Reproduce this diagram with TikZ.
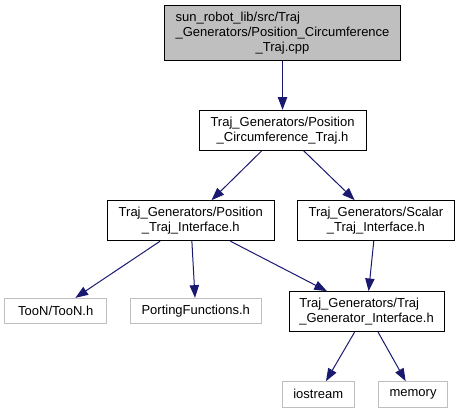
\documentclass[tikz,border=0pt]{standalone}
\usepackage{fontspec}
\setmainfont{Liberation Sans}
\usepackage{calc}
\usepackage{xcolor}
\usepackage{tikz}
\usetikzlibrary{arrows.meta,positioning}

\definecolor{edgeblue}{HTML}{191970}
\definecolor{srcgray}{HTML}{BFBFBF}

\begin{document}
\begin{tikzpicture}[
    font=\fontsize{9.75pt}{11.25pt}\selectfont,
    header/.style={rectangle, draw=black, fill=white, align=center, minimum height=30pt, inner sep=2pt, line width=0.75pt},
    srcfile/.style={header, fill=srcgray, minimum height=41pt},
    sysheader/.style={rectangle, draw=srcgray, fill=white, minimum height=19pt, inner sep=2pt, line width=0.75pt},
    arrow/.style={-{Triangle[length=9.5pt, width=7pt]}, edgeblue, line width=0.75pt},
]
    \useasboundingbox (0,0) rectangle (344.25pt,-306.75pt);

    \node[srcfile, minimum width=177.3pt] (cpp) at (211.9pt,-25pt)
        {\makebox[\widthof{\_Generators/Position\_Circumference}][l]{sun\_robot\_lib/src/Traj}\\\_Generators/Position\_Circumference\\\_Traj.cpp};
    \node[header, minimum width=125.25pt, below=36.5pt of cpp] (circ) {Traj\_Generators/Position\\\_Circumference\_Traj.h};
    \node[header, minimum width=125pt, below=37pt of circ, xshift=-68.85pt] (posif) {Traj\_Generators/Position\\\_Traj\_Interface.h};
    \node[header, minimum width=117.2pt, below=37pt of circ, xshift=70pt] (scalarif) {Traj\_Generators/Scalar\\\_Traj\_Interface.h};
    \node[sysheader, minimum width=76.5pt, below=42.5pt of posif, xshift=-101.25pt] (toon) {TooN/TooN.h};
    \node[sysheader, minimum width=98pt, below=42.5pt of posif, xshift=3.75pt] (porting) {PortingFunctions.h};
    \node[header, minimum width=116.25pt, below=37.5pt of scalarif, xshift=-7pt] (genif)
        {\makebox[\widthof{\_Generator\_Interface.h}][l]{Traj\_Generators/Traj}\\\_Generator\_Interface.h};
    \node[sysheader, minimum width=53.8pt, below=36.75pt of genif, xshift=-36.2pt] (iostream) {iostream};
    \node[sysheader, minimum width=52pt, below=36.75pt of genif, xshift=34.9pt] (memory) {memory};

    \draw[arrow] (cpp) -- (circ);
    \draw[arrow] (circ) -- (posif);
    \draw[arrow] (circ) -- (scalarif);
    \draw[arrow] (posif) -- (toon);
    \draw[arrow] (posif) -- (porting);
    \draw[arrow] (posif) -- (genif);
    \draw[arrow] (scalarif) -- (genif);
    \draw[arrow] (genif) -- (iostream);
    \draw[arrow] (genif) -- (memory);
\end{tikzpicture}
\end{document}
